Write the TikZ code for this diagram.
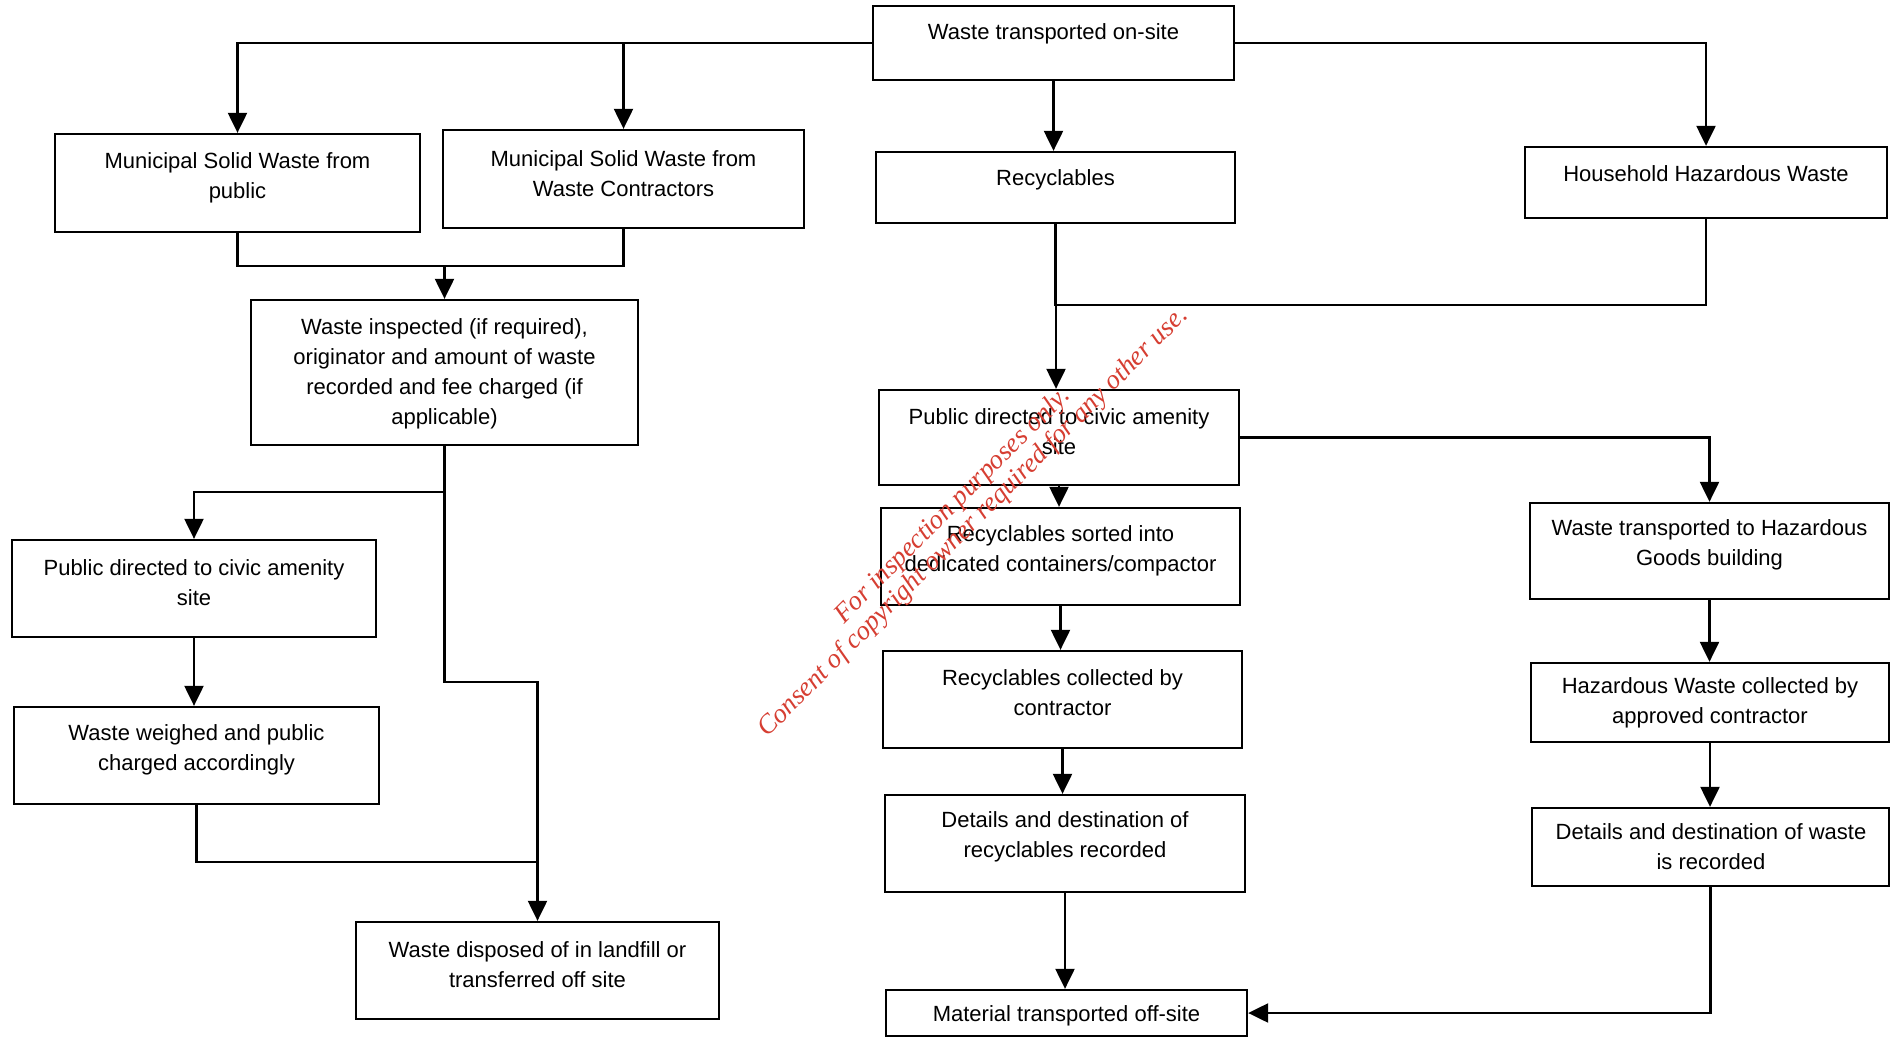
\documentclass[tikz,border=0pt]{standalone}
\usepackage{fontspec}
\setmainfont{Liberation Sans}
\newfontfamily\wmfont{Liberation Serif}
\usetikzlibrary{arrows.meta}
\definecolor{wmred}{RGB}{214,62,50}
\tikzset{
  box/.style={draw, line width=2.3pt, rectangle, inner sep=0pt},
  txt/.style={align=center, inner sep=0pt, font=\fontsize{22}{30}\selectfont},
  conn/.style={line width=2.2pt},
  arr/.style={conn, -{Triangle[length=20pt,width=19pt]}},
  wmark/.style={inner sep=0pt, text=wmred, font=\wmfont\itshape\fontsize{27}{27}\selectfont, rotate=45}
}
\begin{document}
\begin{tikzpicture}[x=1pt,y=-1pt]
\useasboundingbox (0,0) rectangle (1891,1038);
% boxes
\node[box, minimum width=361pt, minimum height=74pt] (b1) at (1053.5,43) {};
\node[box, minimum width=365pt, minimum height=98pt] (b2) at (237.5,183) {};
\node[box, minimum width=361pt, minimum height=98pt] (b3) at (623.5,179) {};
\node[box, minimum width=387pt, minimum height=145pt] (b4) at (444.5,372.5) {};
\node[box, minimum width=364pt, minimum height=97pt] (b5) at (194,588.5) {};
\node[box, minimum width=365pt, minimum height=97pt] (b6) at (196.5,755.5) {};
\node[box, minimum width=363pt, minimum height=97pt] (b7) at (537.5,970.5) {};
\node[box, minimum width=359pt, minimum height=71pt] (b8) at (1055.5,187.5) {};
\node[box, minimum width=362pt, minimum height=71pt] (b9) at (1706,182.5) {};
\node[box, minimum width=360pt, minimum height=95pt] (b10) at (1059,437.5) {};
\node[box, minimum width=359pt, minimum height=97pt] (b11) at (1060.5,556.5) {};
\node[box, minimum width=359pt, minimum height=96pt] (b12) at (1709.5,551) {};
\node[box, minimum width=359pt, minimum height=97pt] (b13) at (1062.5,699.5) {};
\node[box, minimum width=358pt, minimum height=79pt] (b14) at (1710,702.5) {};
\node[box, minimum width=360pt, minimum height=97pt] (b15) at (1065,843.5) {};
\node[box, minimum width=357pt, minimum height=78pt] (b16) at (1710.5,847) {};
\node[box, minimum width=361pt, minimum height=46pt] (b17) at (1066.5,1013) {};
% texts
\node[txt] (t1) at (1053.5,34) {Waste transported on-site};
\node[txt] (t2) at (237.5,178) {Municipal Solid Waste from\\public};
\node[txt] (t3) at (623.5,174) {Municipal Solid Waste from\\Waste Contractors};
\node[txt] (t4) at (444.5,374) {Waste inspected (if required),\\originator and amount of waste\\recorded and fee charged (if\\applicable)};
\node[txt] (t5) at (194,583) {Public directed to civic amenity\\site};
\node[txt] (t6) at (196.5,750) {Waste weighed and public\\charged accordingly};
\node[txt] (t7) at (537.5,965) {Waste disposed of in landfill or\\transferred off site};
\node[txt] (t8) at (1055.5,180) {Recyclables};
\node[txt] (t9) at (1706,174) {Household Hazardous Waste};
\node[txt] (t10) at (1059,432) {Public directed to civic amenity\\site};
\node[txt] (t11) at (1060.5,551) {Recyclables sorted into\\dedicated containers/compactor};
\node[txt] (t12) at (1709.5,545) {Waste transported to Hazardous\\Goods building};
\node[txt] (t13) at (1062.5,693) {Recyclables collected by\\contractor};
\node[txt] (t14) at (1710,703) {Hazardous Waste collected by\\approved contractor};
\node[txt] (t15) at (1065,837) {Details and destination of\\recyclables recorded};
\node[txt] (t16) at (1711,847) {Details and destination of waste\\is recorded};
\node[txt] (t17) at (1066.5,1016) {Material transported off-site};
% junctions
\coordinate (j2) at (444.5,266);
\coordinate (j3) at (444.5,492);
\coordinate (j4) at (444.5,682);
\coordinate (j5) at (537.5,862);
\coordinate (j6) at (1056,305);
% connectors left
\draw[arr] (b1.west) -| (b2.north);
\draw[arr] (b3.north |- b1.west) -- (b3.north);
\draw[conn] (b2.south) |- (j2) -| (b3.south);
\draw[arr] (j2) -- (b4.north);
\draw[arr] (b4.south) -- (j4) -| (b7.north);
\draw[arr] (j3) -| (b5.north);
\draw[arr] (b5.south) -- (b5.south |- b6.north);
\draw[conn] (b6.south) |- (j5);
% connectors right
\draw[arr] (b1.south) -- (b1.south |- b8.north);
\draw[arr] (b1.east) -| (b9.north);
\draw[conn] (b8.south) -- (b8.south |- j6) -- (j6);
\draw[conn] (b9.south) |- (j6);
\draw[arr] (j6) -- (j6 |- b10.north);
\draw[arr] (b10.east) -| (b12.north);
\draw[arr] (b10.south) -- (b10.south |- b11.north);
\draw[arr] (b11.south) -- (b11.south |- b13.north);
\draw[arr] (b13.south) -- (b13.south |- b15.north);
\draw[arr] (b15.south) -- (b15.south |- b17.north);
\draw[arr] (b12.south) -- (b12.south |- b14.north);
\draw[arr] (b14.south) -- (b14.south |- b16.north);
\draw[arr] (b16.south) |- (b17.east);
% watermark
\node[wmark] (w1) at (953,506) {For inspection purposes only.};
\node[wmark] (w2) at (973.5,522.5) {Consent of copyright owner required for any other use.};
\end{tikzpicture}
\end{document}
